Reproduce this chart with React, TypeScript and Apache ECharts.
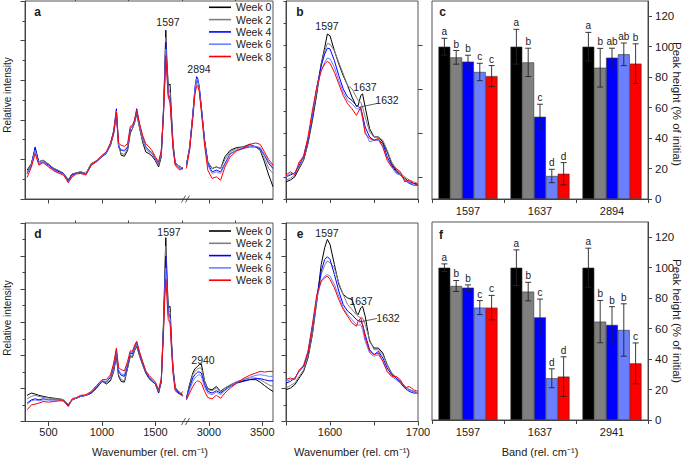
import React, { useEffect, useRef } from 'react';
import * as echarts from 'echarts';

const FONT = '"Liberation Sans", Arial, Helvetica, sans-serif';
const AX = '#444';
const TXT = '#1a1a1a';

const WEEKS = ['Week 0', 'Week 2', 'Week 4', 'Week 6', 'Week 8'];
const COLORS = ['#000000', '#808080', '#0000ff', '#6a80ff', '#ff0000'];

// ---- wide spectra (panels a and d), wavenumbers in rel. cm-1 ----
const X_A = [300, 340, 375, 410, 450, 500, 550, 600, 640, 685, 720, 760, 800, 850, 900, 950, 1000, 1040, 1080, 1110, 1135, 1155, 1180, 1210, 1240, 1265, 1285, 1305, 1325, 1350, 1380, 1410, 1440, 1470, 1500, 1530, 1555, 1575, 1588, 1597, 1607, 1620, 1637, 1650, 1665, 1685, 1710, 1735, 1755,
  2790, 2820, 2850, 2870, 2885, 2895, 2910, 2930, 2960, 2990, 3030, 3070, 3110, 3150, 3200, 3260, 3320, 3380, 3440, 3480, 3520, 3560, 3600];

const A_W0 = [14.6, 17.9, 25.5, 18.8, 19.6, 17.6, 15.4, 14.2, 12.9, 9.5, 12.6, 13.2, 13.7, 12.9, 17.9, 19.3, 21.6, 23.3, 27.1, 33.0, 43.0, 28.0, 22.1, 21.6, 24.6, 33.3, 35.5, 38.4, 43.0, 36.3, 28.8, 23.8, 22.9, 21.6, 19.3, 16.2, 21.3, 44.7, 66.5, 85.3, 70.7, 57.3, 58.1, 43.0, 28.0, 18.3, 17.1, 16.2, 15.4,
  17.1, 25.5, 42.2, 54.8, 59.5, 59.8, 56.1, 45.6, 29.6, 18.8, 15.4, 16.2, 15.4, 21.3, 24.6, 26.0, 26.3, 27.6, 26.3, 24.6, 18.8, 12.1, 6.2];
const A_W2 = [13.7, 17.9, 24.6, 18.8, 19.6, 17.6, 15.4, 14.2, 12.9, 9.9, 12.6, 13.2, 13.7, 12.9, 17.9, 19.3, 21.6, 23.3, 27.1, 33.8, 43.4, 26.3, 22.9, 22.6, 25.5, 34.3, 35.5, 38.9, 43.9, 36.3, 29.6, 25.5, 23.8, 22.6, 19.9, 17.1, 22.1, 43.9, 64.0, 81.6, 69.0, 55.6, 53.9, 41.4, 27.1, 18.3, 17.1, 16.2, 15.4,
  17.1, 25.5, 42.2, 53.9, 59.0, 59.3, 55.6, 45.6, 29.6, 18.8, 15.4, 16.2, 15.4, 19.9, 23.8, 25.5, 26.0, 27.1, 26.3, 25.0, 20.4, 15.4, 12.9];
const A_W4 = [12.9, 17.1, 26.3, 17.9, 18.8, 17.1, 14.9, 13.7, 12.9, 9.2, 12.1, 12.9, 13.2, 12.6, 17.1, 18.8, 21.3, 22.9, 28.0, 34.7, 45.6, 26.3, 24.6, 24.3, 26.3, 35.5, 36.7, 39.7, 45.6, 37.9, 31.3, 26.3, 24.6, 23.3, 20.4, 17.9, 23.8, 43.0, 61.5, 79.1, 66.5, 53.1, 50.6, 39.7, 26.3, 17.9, 16.2, 15.4, 15.4,
  17.1, 26.3, 43.0, 56.4, 61.8, 61.1, 56.9, 46.4, 29.6, 17.9, 13.7, 14.6, 13.7, 17.9, 22.9, 24.6, 25.5, 26.3, 26.3, 25.5, 22.1, 17.9, 15.4];
const A_W6 = [12.6, 17.1, 24.6, 17.6, 18.8, 16.6, 14.6, 13.2, 12.6, 8.7, 11.6, 12.9, 12.9, 12.6, 17.1, 18.8, 21.6, 23.3, 28.0, 34.3, 44.4, 26.6, 24.9, 24.6, 26.6, 35.5, 36.7, 39.4, 44.7, 37.5, 31.0, 26.3, 24.3, 23.3, 20.4, 17.9, 23.8, 42.2, 59.8, 75.7, 64.8, 52.3, 49.7, 38.9, 26.0, 17.6, 16.2, 15.4, 14.9,
  16.6, 25.8, 42.2, 55.6, 60.6, 60.3, 56.1, 45.6, 28.8, 17.1, 12.9, 13.7, 12.9, 17.4, 22.6, 24.6, 25.8, 26.6, 26.6, 26.0, 22.6, 18.8, 16.2];
const A_W8 = [10.9, 16.2, 22.9, 17.1, 18.3, 16.2, 14.2, 12.9, 12.1, 8.2, 11.2, 12.6, 12.9, 12.1, 17.1, 19.3, 22.1, 23.8, 28.3, 33.8, 43.9, 28.3, 27.1, 26.6, 28.0, 36.7, 37.2, 40.0, 44.7, 38.4, 32.2, 28.0, 26.3, 24.3, 21.3, 18.8, 24.6, 41.4, 58.1, 72.4, 63.1, 51.4, 48.9, 38.0, 25.5, 17.1, 15.4, 14.6, 16.2,
  15.4, 24.6, 40.5, 53.1, 56.8, 57.3, 54.4, 43.9, 27.1, 14.6, 10.4, 11.2, 9.5, 16.2, 21.3, 24.3, 25.5, 27.6, 28.3, 27.6, 23.8, 19.9, 17.1];

const D_W0 = [15.8, 17.2, 16.6, 15.8, 15.2, 14.5, 14.1, 13.7, 13.1, 10.1, 13.1, 14.1, 15.2, 15.8, 17.2, 20.2, 24.6, 22.6, 24.6, 30.3, 39.4, 27.3, 24.2, 23.8, 32.3, 39.4, 38.8, 42.8, 45.5, 40.0, 34.3, 29.3, 25.9, 24.2, 22.6, 17.2, 23.8, 58.6, 88.9, 111.1, 90.9, 68.7, 69.7, 49.5, 32.3, 20.6, 18.6, 17.2, 15.8,
  14.1, 22.6, 29.3, 31.9, 32.7, 33.5, 34.3, 34.7, 24.6, 19.8, 19.2, 21.2, 18.2, 20.2, 21.8, 23.8, 24.6, 25.3, 25.3, 23.8, 21.8, 19.8, 18.2];
const D_W2 = [13.7, 15.2, 15.8, 15.2, 14.5, 14.1, 13.7, 13.7, 13.1, 10.1, 13.1, 14.1, 15.2, 15.8, 17.2, 20.2, 24.2, 23.2, 25.3, 31.3, 40.4, 28.3, 25.3, 24.6, 32.7, 40.0, 39.4, 43.4, 46.1, 40.4, 34.7, 29.3, 26.3, 24.2, 22.6, 17.8, 24.2, 57.6, 85.9, 106.1, 87.9, 67.1, 66.3, 48.1, 31.9, 20.6, 18.2, 17.2, 15.8,
  14.1, 21.8, 28.3, 30.3, 31.3, 31.9, 32.3, 32.3, 24.2, 19.2, 18.6, 20.2, 17.8, 20.2, 22.2, 24.2, 25.3, 26.3, 26.3, 25.3, 23.8, 22.2, 21.2];
const D_W4 = [11.1, 13.1, 13.7, 13.1, 13.7, 13.1, 13.1, 13.1, 12.5, 9.7, 13.1, 14.1, 15.2, 15.8, 17.2, 20.6, 24.2, 23.8, 26.7, 33.3, 42.8, 30.3, 27.9, 27.3, 34.3, 41.4, 40.8, 44.8, 47.5, 41.4, 35.4, 29.9, 26.7, 24.6, 22.6, 18.2, 24.6, 55.6, 81.8, 100.0, 84.8, 65.1, 64.2, 46.5, 30.7, 19.8, 17.8, 16.6, 15.8,
  13.7, 20.6, 26.3, 28.3, 29.3, 29.9, 29.9, 29.3, 22.2, 18.2, 17.2, 18.6, 17.2, 19.2, 21.2, 23.2, 24.2, 25.3, 25.9, 25.9, 25.3, 24.6, 24.6];
const D_W6 = [10.5, 12.5, 13.1, 12.5, 13.1, 13.1, 13.1, 13.1, 12.5, 9.1, 13.1, 14.1, 15.2, 15.8, 17.8, 21.2, 24.6, 24.2, 27.3, 34.3, 43.4, 31.3, 28.7, 28.3, 35.4, 42.0, 41.4, 45.5, 48.1, 42.0, 36.0, 30.3, 27.3, 25.3, 23.2, 18.6, 25.3, 54.5, 78.8, 92.9, 80.8, 63.6, 62.6, 45.5, 30.3, 19.2, 17.2, 16.2, 15.2,
  13.1, 19.2, 24.2, 26.3, 27.3, 27.9, 28.3, 27.3, 20.6, 17.2, 16.2, 17.8, 16.2, 18.6, 21.2, 23.8, 25.3, 26.7, 27.9, 28.3, 27.9, 27.3, 27.3];
const D_W8 = [7.1, 10.1, 10.5, 11.1, 12.1, 11.7, 12.1, 12.5, 12.5, 9.1, 13.7, 14.5, 15.8, 16.2, 18.2, 21.8, 25.3, 25.3, 28.3, 35.4, 44.4, 32.7, 31.3, 30.7, 36.4, 42.8, 42.4, 46.1, 48.5, 42.4, 36.4, 30.7, 27.9, 25.9, 23.8, 19.2, 25.9, 52.5, 74.7, 85.9, 75.8, 61.6, 59.6, 44.4, 29.3, 18.6, 17.2, 16.2, 18.2,
  13.1, 17.2, 21.2, 23.2, 24.2, 24.6, 24.2, 23.2, 18.2, 14.5, 13.7, 15.8, 14.1, 17.2, 20.2, 23.2, 25.9, 27.9, 29.3, 30.3, 29.9, 30.3, 30.3];

// ---- zoomed spectra (panels b and e) ----
const X_B = [1550, 1555, 1560, 1565, 1570, 1575, 1580, 1585, 1590, 1594, 1597, 1600, 1605, 1610, 1615, 1620, 1625, 1630, 1632, 1635, 1637, 1640, 1645, 1650, 1655, 1660, 1665, 1670, 1675, 1680, 1685, 1690, 1695, 1700];

const B_W0 = [7.8, 8.6, 10.1, 13.9, 17.6, 25.2, 35.7, 47.8, 61.4, 68.9, 75.0, 74.2, 67.4, 61.4, 56.1, 51.6, 46.3, 42.1, 42.5, 47.1, 47.8, 41.8, 32.0, 28.2, 28.2, 25.9, 21.4, 16.1, 13.1, 10.9, 9.4, 7.8, 7.1, 6.8];
const B_W2 = [8.6, 9.4, 10.9, 14.6, 17.9, 25.9, 37.3, 49.3, 61.4, 67.4, 70.7, 70.4, 67.4, 62.1, 56.9, 51.6, 50.1, 46.3, 44.8, 44.0, 41.8, 37.3, 30.5, 28.2, 28.2, 26.7, 22.2, 16.9, 13.9, 11.6, 10.1, 8.6, 7.8, 7.1];
const B_W4 = [10.1, 10.9, 11.9, 15.4, 19.2, 26.7, 38.0, 50.8, 60.6, 65.9, 68.6, 68.2, 62.9, 56.1, 50.1, 46.3, 44.8, 42.5, 42.1, 41.0, 38.0, 32.7, 28.2, 26.7, 27.0, 25.2, 19.2, 15.4, 12.4, 10.9, 8.6, 7.1, 6.3, 6.3];
const B_W6 = [10.1, 11.6, 11.6, 16.1, 19.9, 27.5, 38.8, 50.1, 58.4, 62.1, 64.1, 63.7, 59.9, 53.8, 48.6, 44.8, 43.3, 41.0, 41.0, 40.3, 36.5, 30.5, 25.9, 26.7, 26.7, 23.7, 18.4, 14.6, 11.6, 10.9, 8.6, 7.8, 6.3, 6.8];
const B_W8 = [10.9, 12.4, 10.9, 16.9, 19.2, 28.2, 40.3, 50.8, 58.4, 61.4, 62.6, 61.7, 57.6, 52.3, 47.1, 43.3, 41.0, 38.0, 39.5, 41.8, 37.3, 29.7, 27.5, 26.7, 27.5, 23.7, 17.6, 14.6, 13.9, 12.4, 7.8, 8.6, 7.1, 6.3];

const E_W0 = [19.2, 20.2, 22.2, 26.3, 30.3, 38.4, 52.5, 72.7, 94.9, 105.1, 110.1, 107.1, 94.9, 82.8, 76.8, 74.7, 73.7, 65.7, 64.6, 68.7, 69.7, 63.6, 48.5, 44.4, 44.4, 41.4, 34.3, 29.3, 26.3, 24.2, 21.2, 19.2, 18.2, 17.2];
const E_W2 = [20.2, 21.8, 23.2, 27.3, 31.3, 39.4, 53.5, 72.7, 88.9, 94.5, 97.0, 96.0, 92.9, 83.8, 76.8, 70.7, 67.7, 64.6, 63.6, 62.6, 62.6, 58.6, 49.5, 43.4, 43.4, 40.4, 34.3, 29.3, 26.3, 23.8, 21.2, 19.2, 18.2, 17.2];
const E_W4 = [23.2, 24.2, 26.3, 30.3, 33.3, 41.4, 56.6, 74.7, 90.9, 98.0, 99.6, 98.0, 88.9, 78.8, 70.7, 66.7, 64.6, 61.6, 61.0, 60.6, 58.6, 52.5, 43.4, 40.4, 42.4, 38.4, 32.3, 28.3, 26.3, 23.2, 20.2, 18.2, 17.2, 17.2];
const E_W6 = [24.2, 25.3, 26.3, 30.3, 34.3, 42.4, 57.6, 74.7, 84.8, 87.9, 88.9, 87.9, 82.8, 75.8, 68.7, 64.6, 61.6, 58.6, 58.2, 58.6, 55.6, 48.5, 41.4, 39.4, 40.4, 36.4, 30.3, 27.3, 25.3, 23.2, 21.2, 19.2, 18.2, 17.2];
const E_W8 = [25.3, 26.3, 25.3, 31.3, 33.3, 42.4, 58.6, 76.8, 84.8, 86.9, 87.9, 85.9, 80.8, 73.7, 67.7, 63.6, 59.6, 57.6, 60.6, 62.6, 58.6, 50.5, 42.4, 40.4, 41.4, 36.4, 30.3, 27.3, 27.3, 25.3, 20.2, 21.2, 19.2, 18.2];

// ---- peak heights (% of initial) ----
const BANDS_C = ['1597', '1637', '2894'];
const BANDS_F = ['1597', '1637', '2941'];

const C_W0 = [100, 100, 100];
const C_W2 = [93, 89.7, 86.2];
const C_W4 = [90.2, 54, 92.8];
const C_W6 = [83.4, 15.1, 95];
const C_W8 = [80.7, 16.6, 88.9];
const C_ERR_W0 = [5.5, 11.4, 9.4];
const C_ERR_W2 = [4.5, 9.3, 12.7];
const C_ERR_W4 = [4.2, 8.2, 6.2];
const C_ERR_W6 = [5.7, 4.4, 7.4];
const C_ERR_W8 = [6.9, 7.3, 13];
const C_LET_W0 = ['a', 'a', 'a'];
const C_LET_W2 = ['b', 'b', 'b'];
const C_LET_W4 = ['b', 'c', 'ab'];
const C_LET_W6 = ['c', 'd', 'ab'];
const C_LET_W8 = ['c', 'd', 'b'];

const F_W0 = [100, 100, 100];
const F_W2 = [88, 84.3, 64.6];
const F_W4 = [86.9, 67.4, 62.4];
const F_W6 = [73.8, 27.4, 59.1];
const F_W8 = [73.8, 28.5, 37.2];
const F_ERR_W0 = [2.5, 11.7, 12.8];
const F_ERR_W2 = [3.6, 6.1, 13.9];
const F_ERR_W4 = [1.8, 12, 12];
const F_ERR_W6 = [4.6, 6.2, 17.2];
const F_ERR_W8 = [8, 13, 13.4];
const F_LET_W0 = ['a', 'a', 'a'];
const F_LET_W2 = ['b', 'b', 'b'];
const F_LET_W4 = ['b', 'c', 'b'];
const F_LET_W6 = ['c', 'd', 'b'];
const F_LET_W8 = ['c', 'd', 'c'];

// tick labels
const WIDE_TICKS = [500, 1000, 1500, 3000, 3500];
const WIDE_MINOR = [750, 1250, 1750, 3250];
const ZOOM_TICKS = [1550, 1600, 1650, 1700];
const ZOOM_LABELS = [1600, 1700];
const PCT_TICKS = [0, 20, 40, 60, 80, 100, 120];

// broken axis: the 1775-2775 gap is removed
const BREAK_SHIFT = 1000;
const brk = (x: number) => (x > 2000 ? x - BREAK_SHIFT : x);
const unbrk = (x: number) => (x > 1800 ? x + BREAK_SHIFT : x);

function buildData(xs: number[], ys: number[], broken: boolean) {
  const out: any[] = [];
  for (let i = 0; i < xs.length; i++) {
    if (broken && i > 0 && xs[i - 1] < 2000 && xs[i] > 2000) out.push([1772, null]);
    out.push([broken ? brk(xs[i]) : xs[i], ys[i]]);
  }
  return out;
}

function lineSeries(name: string, color: string, xs: number[], ys: number[], xi: number, yi: number, broken: boolean) {
  return {
    type: 'line', name, xAxisIndex: xi, yAxisIndex: yi, symbol: 'none', showSymbol: false,
    silent: true, connectNulls: false,
    lineStyle: { color, width: 1 }, itemStyle: { color },
    data: buildData(xs, ys, broken),
  };
}

function barSeries(tag: string, w: number, vals: number[], xi: number, yi: number) {
  return {
    type: 'bar', name: tag + w, xAxisIndex: xi, yAxisIndex: yi, data: vals, silent: true,
    barGap: '0%', barCategoryGap: '18%',
    itemStyle: { color: COLORS[w], borderColor: '#333', borderWidth: 0.6 },
  };
}

function errSeries(xi: number, yi: number, vals: number[][], errs: number[][], lets: string[][]) {
  const data: number[][] = [];
  const letters: string[] = [];
  for (let c = 0; c < 3; c++) {
    for (let w = 0; w < 5; w++) {
      data.push([c, vals[w][c], errs[w][c], w]);
      letters.push(lets[w][c]);
    }
  }
  return {
    type: 'custom', xAxisIndex: xi, yAxisIndex: yi, z: 5, silent: true, data,
    renderItem: (params: any, api: any) => {
      const cat = api.value(0);
      const v = api.value(1);
      const e = api.value(2);
      const w = api.value(3);
      const catW = api.size([1, 0])[0];
      const bw = (catW * 0.82) / 5;
      const cx = api.coord([cat, 0])[0] - catW * 0.41 + bw * (w + 0.5);
      const yT = api.coord([cat, v + e])[1];
      const yB = api.coord([cat, v - e])[1];
      const cap = 3;
      const st = { stroke: '#222', lineWidth: 0.9 };
      return {
        type: 'group',
        children: [
          { type: 'line', shape: { x1: cx, y1: yT, x2: cx, y2: yB }, style: st },
          { type: 'line', shape: { x1: cx - cap, y1: yT, x2: cx + cap, y2: yT }, style: st },
          { type: 'line', shape: { x1: cx - cap, y1: yB, x2: cx + cap, y2: yB }, style: st },
          {
            type: 'text', x: cx, y: yT - 1.5,
            style: { text: letters[params.dataIndex], align: 'center', verticalAlign: 'bottom', fontSize: 10, fill: TXT, fontFamily: FONT },
          },
        ],
      };
    },
  };
}

const tickStyle = { color: AX, width: 1 };

function wideX(grid: number, showLabels: boolean) {
  return [
    {
      type: 'value', gridIndex: grid, min: 280, max: 2600,
      axisLine: { show: true, lineStyle: { color: AX } },
      axisTick: { show: true, length: 4.5, customValues: WIDE_TICKS.map(brk), lineStyle: tickStyle },
      axisLabel: {
        show: showLabels, customValues: WIDE_TICKS.map(brk), formatter: (v: number) => String(unbrk(v)),
        fontSize: 11, color: TXT, margin: 5, fontFamily: FONT,
      },
      splitLine: { show: false },
    },
    {
      type: 'value', gridIndex: grid, min: 280, max: 2600,
      axisLine: { show: false },
      axisTick: { show: true, length: 2.5, customValues: WIDE_MINOR.map(brk), lineStyle: tickStyle },
      axisLabel: { show: false },
      splitLine: { show: false },
    },
  ];
}

function zoomX(grid: number, showLabels: boolean) {
  return {
    type: 'value', gridIndex: grid, min: 1550, max: 1700,
    axisLine: { show: true, lineStyle: { color: AX } },
    axisTick: { show: true, length: 4, customValues: ZOOM_TICKS, lineStyle: tickStyle },
    axisLabel: {
      show: showLabels, customValues: ZOOM_LABELS, formatter: (v: number) => String(v),
      fontSize: 11, color: TXT, margin: 5, fontFamily: FONT,
    },
    splitLine: { show: false },
  };
}

function barX(grid: number, cats: string[]) {
  return {
    type: 'category', gridIndex: grid, data: cats,
    axisLine: { show: true, lineStyle: { color: AX } },
    axisTick: { show: true, length: 4, interval: 0, lineStyle: tickStyle },
    axisLabel: { fontSize: 11, color: TXT, margin: 6, fontFamily: FONT },
    splitLine: { show: false },
  };
}

function specY(grid: number, max: number) {
  return {
    type: 'value', gridIndex: grid, min: 0, max, interval: 20,
    axisLine: { show: true, lineStyle: { color: AX } },
    axisTick: { show: true, length: 4.5, lineStyle: tickStyle },
    minorTick: { show: true, splitNumber: 2, length: 2.5, lineStyle: tickStyle },
    axisLabel: { show: false },
    splitLine: { show: false }, minorSplitLine: { show: false },
  };
}

function barY(grid: number) {
  return {
    type: 'value', gridIndex: grid, position: 'right', min: 0, max: 130, interval: 20,
    axisLine: { show: true, lineStyle: { color: AX } },
    axisTick: { show: true, length: 4, customValues: PCT_TICKS, lineStyle: tickStyle },
    axisLabel: {
      show: true, customValues: PCT_TICKS, formatter: (v: number) => (v > 125 ? '' : String(v)),
      fontSize: 11.5, color: TXT, margin: 7, fontFamily: FONT,
    },
    splitLine: { show: false },
  };
}

function gridBox(left: number, top: number, width: number, height: number) {
  return {
    left, top, width, height, show: true, borderColor: '#555', borderWidth: 1,
    backgroundColor: 'transparent', containLabel: false, outerBoundsMode: 'none',
  };
}

function legendAt(top: number) {
  return {
    data: WEEKS.map((name) => ({ name, icon: 'rect' })),
    orient: 'vertical', left: 209, top, padding: 0,
    itemWidth: 22, itemHeight: 1.6, itemGap: 0.3, selectedMode: false,
    textStyle: { fontSize: 10.5, color: TXT, fontFamily: FONT, lineHeight: 12 },
  };
}

function txt(text: string, x: number, y: number, size: number, extra: any = {}, rotation = 0) {
  return {
    type: 'text', x, y, z: 100, silent: true, rotation,
    style: { text, fontSize: size, fill: TXT, fontFamily: FONT, align: 'center', verticalAlign: 'middle', ...extra },
  };
}

function seg(x1: number, y1: number, x2: number, y2: number) {
  return { type: 'line', z: 100, silent: true, shape: { x1, y1, x2, y2 }, style: { stroke: '#333', lineWidth: 0.8 } };
}

const CM = 'rel. cm\u207B\u00B9';

function buildOption() {
  const A = [A_W0, A_W2, A_W4, A_W6, A_W8];
  const B = [B_W0, B_W2, B_W4, B_W6, B_W8];
  const D = [D_W0, D_W2, D_W4, D_W6, D_W8];
  const E = [E_W0, E_W2, E_W4, E_W6, E_W8];
  const CV = [C_W0, C_W2, C_W4, C_W6, C_W8];
  const CE = [C_ERR_W0, C_ERR_W2, C_ERR_W4, C_ERR_W6, C_ERR_W8];
  const CL = [C_LET_W0, C_LET_W2, C_LET_W4, C_LET_W6, C_LET_W8];
  const FV = [F_W0, F_W2, F_W4, F_W6, F_W8];
  const FE = [F_ERR_W0, F_ERR_W2, F_ERR_W4, F_ERR_W6, F_ERR_W8];
  const FL = [F_LET_W0, F_LET_W2, F_LET_W4, F_LET_W6, F_LET_W8];

  const series: any[] = [];
  WEEKS.forEach((n, w) => series.push(lineSeries(n, COLORS[w], X_A, A[w], 0, 0, true)));
  WEEKS.forEach((n, w) => series.push(lineSeries(n, COLORS[w], X_B, B[w], 2, 1, false)));
  WEEKS.forEach((n, w) => series.push(lineSeries(n, COLORS[w], X_A, D[w], 4, 4, true)));
  WEEKS.forEach((n, w) => series.push(lineSeries(n, COLORS[w], X_B, E[w], 6, 5, false)));
  WEEKS.forEach((_, w) => series.push(barSeries('c', w, CV[w], 3, 3)));
  WEEKS.forEach((_, w) => series.push(barSeries('f', w, FV[w], 7, 6)));
  series.push(errSeries(3, 3, CV, CE, CL));
  series.push(errSeries(7, 6, FV, FE, FL));

  const bold = { fontWeight: 'bold' };
  const graphic: any[] = [
    // panel letters
    txt('a', 37.5, 12, 12, bold), txt('b', 300, 12, 12, bold), txt('c', 442.5, 12, 12, bold),
    txt('d', 38, 234, 12, bold), txt('e', 300, 234, 12, bold), txt('f', 441, 234.5, 12, bold),
    // peak annotations
    txt('1597', 168, 22, 10.5), txt('2894', 199, 69, 10.5),
    txt('1597', 169, 232, 10.5), txt('2940', 203, 360, 10.5),
    txt('1597', 327, 26, 10.5), txt('1637', 365, 87, 10.5), txt('1632', 387, 100, 10.5),
    seg(360, 107, 377, 103.5),
    txt('1597', 327, 233, 10.5), txt('1637', 361, 301, 10.5), txt('1632', 388, 318, 10.5),
    seg(359, 322, 377, 318.5),
    // axis breaks
    seg(181.5, 202.5, 185.5, 195.5), seg(185.5, 202.5, 189.5, 195.5),
    seg(181.5, 425, 185.5, 418), seg(185.5, 425, 189.5, 418),
    // axis titles
    txt('Relative intensity', 7, 95, 10, {}, Math.PI / 2),
    txt('Relative intensity', 7, 318, 10, {}, Math.PI / 2),
    txt('Wavenumber (' + CM + ')', 150, 452, 11),
    txt('Wavenumber (' + CM + ')', 352, 452, 11),
    txt('Band (' + CM + ')', 540, 452, 11),
    txt('Peak height (% of initial)', 677, 104, 11.5, {}, -Math.PI / 2),
    txt('Peak height (% of initial)', 677, 321, 11.5, {}, -Math.PI / 2),
  ];

  return {
    animation: false,
    backgroundColor: '#ffffff',
    textStyle: { fontFamily: FONT },
    grid: [
      gridBox(25, 1, 248, 198),
      gridBox(286, 1, 132, 198),
      gridBox(432, 1, 216, 198),
      gridBox(25, 223, 248, 198.5),
      gridBox(286, 223, 132, 198.5),
      gridBox(432, 222, 216, 198),
    ],
    legend: [legendAt(1.3), legendAt(225)],
    xAxis: [
      ...wideX(0, false),
      zoomX(1, false),
      barX(2, BANDS_C),
      ...wideX(3, true),
      zoomX(4, true),
      barX(5, BANDS_F),
    ],
    yAxis: [
      specY(0, 100),
      {
        type: 'value', gridIndex: 1, min: 0, max: 90, interval: 10,
        axisLine: { show: true, lineStyle: { color: AX } },
        axisTick: { show: true, length: 2.5, lineStyle: tickStyle },
        axisLabel: { show: false }, splitLine: { show: false },
      },
      {
        type: 'value', gridIndex: 1, min: 0, max: 90,
        axisLine: { show: false },
        axisTick: { show: true, length: 4.5, customValues: [10, 30, 50, 70], lineStyle: tickStyle },
        axisLabel: { show: false }, splitLine: { show: false },
      },
      barY(2),
      specY(3, 120),
      specY(4, 120),
      barY(5),
    ],
    series,
    graphic,
  };
}

export default function App() {
  const ref = useRef<HTMLDivElement>(null);
  useEffect(() => {
    if (!ref.current) return;
    const chart = echarts.init(ref.current, null, { renderer: 'svg' });
    chart.setOption(buildOption() as any);
    return () => chart.dispose();
  }, []);
  return (
    <div
      ref={ref}
      style={{ position: 'fixed', left: 0, top: 0, width: 685, height: 458, background: '#fff' }}
    />
  );
}
